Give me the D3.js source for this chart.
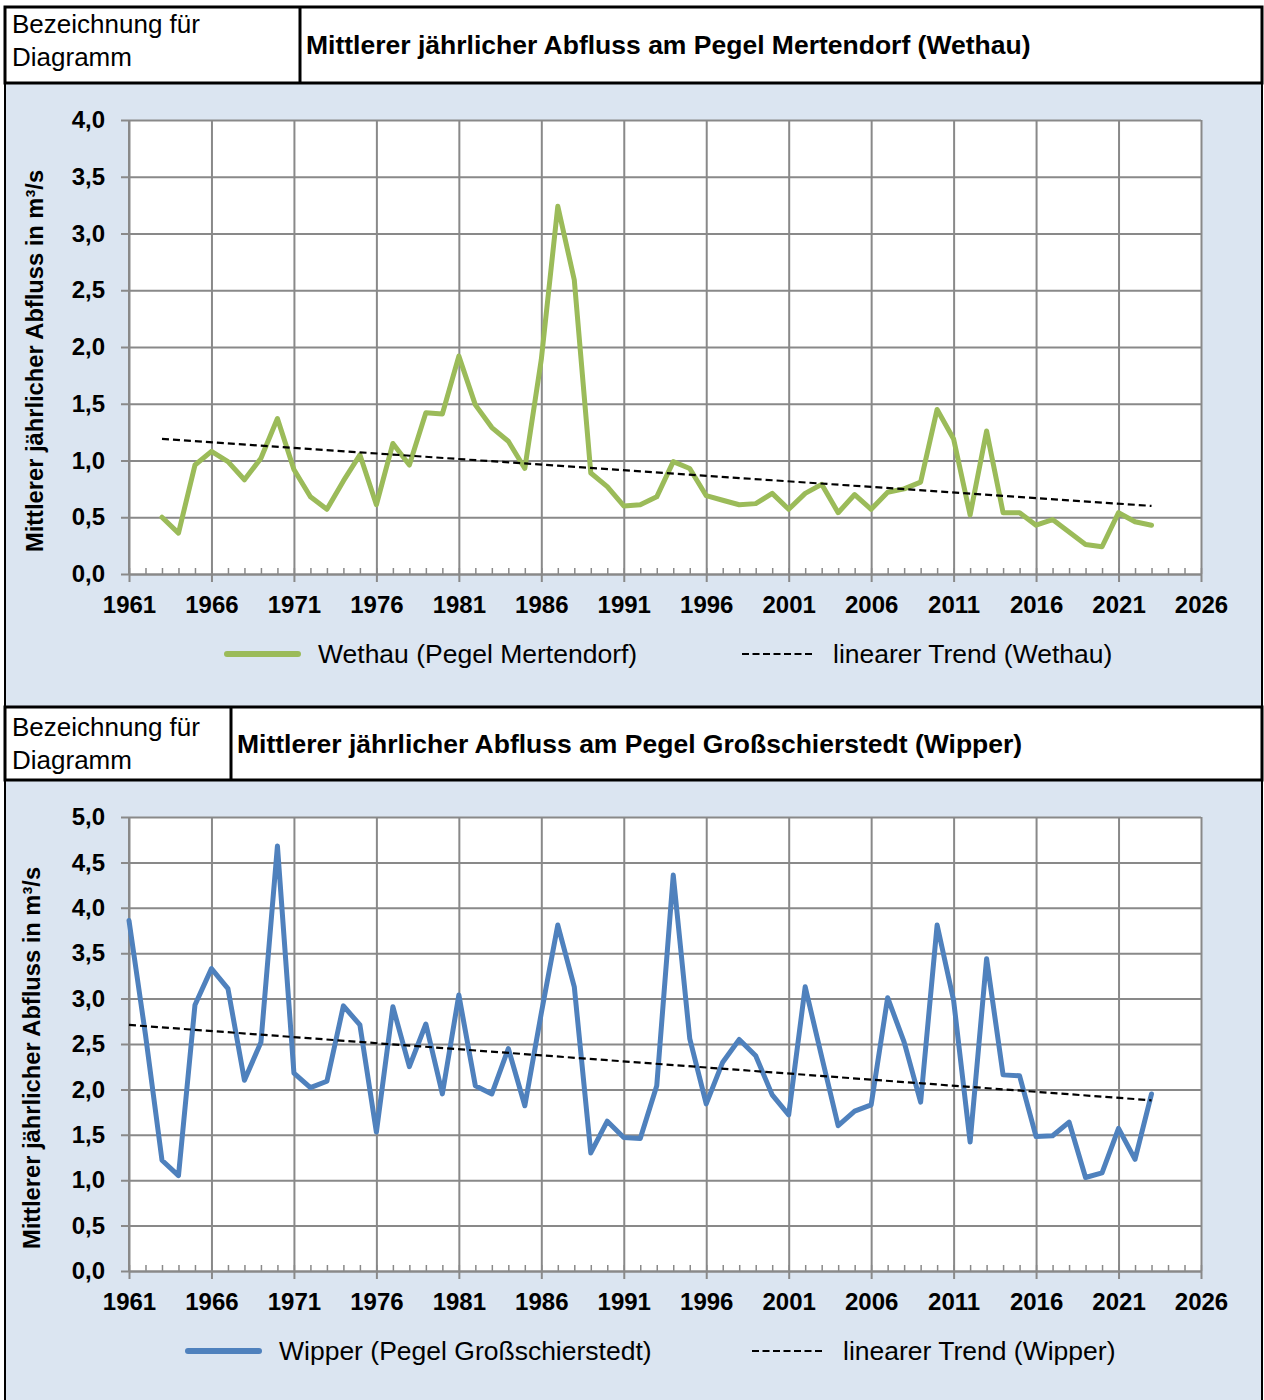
<!DOCTYPE html>
<html>
<head>
<meta charset="utf-8">
<script src="https://cdn.jsdelivr.net/npm/d3@7"></script>
<style>
body { margin: 0; background: #fff; }
text { font-family: "Liberation Sans", Arial, sans-serif; }
</style>
</head>
<body>
<svg id="chart" width="1264" height="1400"></svg>
<script>
// Wethau (Pegel Mertendorf), from 1963
var wethauStart = 1963
var wethauValues = [0.50, 0.36, 0.96, 1.08, 0.99, 0.83, 1.02, 1.37, 0.92, 0.68,
    0.57, 0.82, 1.05, 0.61, 1.15, 0.96, 1.42, 1.41, 1.92, 1.49,
    1.29, 1.17, 0.93, 1.89, 3.24, 2.59, 0.89, 0.77, 0.60, 0.61,
    0.68, 0.99, 0.93, 0.69, 0.65, 0.61, 0.62, 0.71, 0.57, 0.71,
    0.79, 0.54, 0.70, 0.57, 0.72, 0.75, 0.81, 1.45, 1.19, 0.52,
    1.26, 0.54, 0.54, 0.43, 0.48, 0.37, 0.26, 0.24, 0.54, 0.46, 0.43]
var wethauTrend = [[1963, 1.19], [2023, 0.60]]

// Wipper (Pegel Großschierstedt), from 1961
var wipperStart = 1961
var wipperValues = [3.86, 2.60, 1.22, 1.05, 2.93, 3.33, 3.11, 2.10, 2.52, 4.68,
    2.18, 2.02, 2.09, 2.92, 2.71, 1.53, 2.91, 2.25, 2.72, 1.95,
    3.04, 2.04, 1.95, 2.45, 1.82, 2.84, 3.81, 3.13, 1.30, 1.65,
    1.47, 1.46, 2.04, 4.36, 2.56, 1.84, 2.30, 2.55, 2.37, 1.94,
    1.72, 3.13, 2.36, 1.60, 1.76, 1.83, 3.01, 2.52, 1.86, 3.81,
    2.98, 1.42, 3.44, 2.16, 2.15, 1.48, 1.49, 1.64, 1.03, 1.08,
    1.57, 1.23, 1.95]
var wipperTrend = [[1961, 2.71], [2023, 1.88]]

var xTicks = [1961, 1966, 1971, 1976, 1981, 1986, 1991, 1996, 2001, 2006, 2011, 2016, 2021, 2026]
var yTicksWethau = [0, 0.5, 1, 1.5, 2, 2.5, 3, 3.5, 4]
var yTicksWipper = [0, 0.5, 1, 1.5, 2, 2.5, 3, 3.5, 4, 4.5, 5]

var svg = d3.select("#chart")
var fmt = d3.formatLocale({ decimal: ",", thousands: ".", grouping: [3], currency: ["", ""] }).format(".1f")
var gridColor = "#898989"

// frames
function frame(y, h, fill, sw) {
    svg.append("rect")
        .attr("x", 5).attr("y", y)
        .attr("width", 1257).attr("height", h)
        .attr("fill", fill).attr("stroke", "#000").attr("stroke-width", sw)
}
frame(83, 624, "#dbe5f1", 2)
frame(780, 640, "#dbe5f1", 2)
frame(7, 76, "#fff", 3)
frame(707, 73, "#fff", 3)
svg.append("line").attr("x1", 300).attr("x2", 300).attr("y1", 7).attr("y2", 83).attr("stroke", "#000").attr("stroke-width", 3)
svg.append("line").attr("x1", 231).attr("x2", 231).attr("y1", 707).attr("y2", 780).attr("stroke", "#000").attr("stroke-width", 3)

function header(y0, x, titleY, title) {
    svg.append("text").attr("x", 12).attr("y", y0 + 26).attr("font-size", 26).text("Bezeichnung für")
    svg.append("text").attr("x", 12).attr("y", y0 + 59).attr("font-size", 26).text("Diagramm")
    svg.append("text").attr("x", x).attr("y", titleY).attr("font-size", 26.5)
        .attr("font-weight", "bold").text(title)
}
header(7, 306, 54, "Mittlerer jährlicher Abfluss am Pegel Mertendorf (Wethau)")
header(710, 237, 753, "Mittlerer jährlicher Abfluss am Pegel Großschierstedt (Wipper)")

function chart(o) {
    var x = d3.scaleLinear().domain([1961, 2026]).range([129, 1201])
    var y = d3.scaleLinear().domain([0, o.yMax]).range([o.bottom, o.top])
    var g = svg.append("g")

    g.append("rect")
        .attr("x", x(1961)).attr("y", y(o.yMax))
        .attr("width", x(2026) - x(1961)).attr("height", y(0) - y(o.yMax))
        .attr("fill", "#fff")

    // horizontal grid + y ticks
    g.append("g")
        .attr("transform", `translate(${x(2026)},0)`)
        .call(d3.axisLeft(y).tickValues(o.yTicks).tickSize(x(2026) - x(1961) + 8).tickFormat(""))
        .call(a => a.select(".domain").remove())
        .selectAll("line").attr("stroke", gridColor).attr("stroke-width", 2)

    // vertical grid
    g.append("g")
        .attr("transform", `translate(0,${y(0)})`)
        .call(d3.axisBottom(x).tickValues(xTicks).tickSize(-(y(0) - y(o.yMax))).tickFormat(""))
        .call(a => a.select(".domain").remove())
        .selectAll("line").attr("stroke", gridColor).attr("stroke-width", 2)

    // major ticks out, minor ticks in
    g.append("g")
        .attr("transform", `translate(0,${y(0)})`)
        .call(d3.axisBottom(x).tickValues(xTicks).tickSize(8).tickFormat("").tickSizeOuter(0))
        .call(a => a.select(".domain").attr("stroke", gridColor).attr("stroke-width", 2))
        .selectAll("line").attr("stroke", gridColor).attr("stroke-width", 2)
    g.append("g")
        .attr("transform", `translate(0,${y(0)})`)
        .call(d3.axisBottom(x).tickValues(d3.range(1961, 2027)).tickSize(-6).tickFormat(""))
        .call(a => a.select(".domain").remove())
        .selectAll("line").attr("stroke", gridColor).attr("stroke-width", 1.5)

    // y axis line
    g.append("line")
        .attr("x1", x(1961)).attr("x2", x(1961))
        .attr("y1", y(0)).attr("y2", y(o.yMax))
        .attr("stroke", gridColor).attr("stroke-width", 2)

    // tick labels
    g.append("g")
        .attr("transform", `translate(0,${y(0)})`)
        .call(d3.axisBottom(x).tickValues(xTicks).tickSize(0).tickPadding(22).tickFormat(d => d))
        .call(a => a.select(".domain").remove())
        .selectAll("text")
        .attr("font-size", 24).attr("font-weight", "bold").attr("fill", "#000")
        .style("font-family", "'Liberation Sans', Arial, sans-serif")
    g.append("g")
        .attr("transform", `translate(${x(1961)},0)`)
        .call(d3.axisLeft(y).tickValues(o.yTicks).tickSize(0).tickPadding(24).tickFormat(fmt))
        .call(a => a.select(".domain").remove())
        .selectAll("text")
        .attr("font-size", 24).attr("font-weight", "bold").attr("fill", "#000")
        .style("font-family", "'Liberation Sans', Arial, sans-serif")

    // y title
    g.append("text")
        .attr("transform", `translate(${o.titleX},${(y(0) + y(o.yMax)) / 2 + 14}) rotate(-90)`)
        .attr("text-anchor", "middle").attr("dy", "0.35em")
        .attr("font-size", 23.7).attr("font-weight", "bold")
        .text("Mittlerer jährlicher Abfluss in m³/s")

    // data
    var line = d3.line().x((d, i) => x(o.start + i)).y(d => y(d))
    g.append("path")
        .datum(o.values)
        .attr("d", line)
        .attr("fill", "none")
        .attr("stroke", o.color)
        .attr("stroke-width", 5)
        .attr("stroke-linejoin", "round")
        .attr("stroke-linecap", "round")

    g.append("path")
        .datum(o.trend)
        .attr("d", d3.line().x(d => x(d[0])).y(d => y(d[1])))
        .attr("fill", "none")
        .attr("stroke", "#000")
        .attr("stroke-width", 2.2)
        .attr("stroke-dasharray", "7,4")

    // legend
    var ly = o.legendY
    g.append("line")
        .attr("x1", o.leg[0]).attr("x2", o.leg[0] + 71)
        .attr("y1", ly).attr("y2", ly)
        .attr("stroke", o.color).attr("stroke-width", 6).attr("stroke-linecap", "round")
    g.append("text").attr("x", o.leg[0] + 91).attr("y", ly).attr("dy", "0.35em")
        .attr("font-size", 26.5).text(o.name)
    g.append("line")
        .attr("x1", o.leg[1]).attr("x2", o.leg[1] + 70)
        .attr("y1", ly).attr("y2", ly)
        .attr("stroke", "#000").attr("stroke-width", 2).attr("stroke-dasharray", "7,3.5")
    g.append("text").attr("x", o.leg[1] + 91).attr("y", ly).attr("dy", "0.35em")
        .attr("font-size", 26.5).text(o.trendName)
}

chart({
    top: 120, bottom: 574, yMax: 4, yTicks: yTicksWethau,
    start: wethauStart, values: wethauValues, trend: wethauTrend,
    color: "#9bbb59", titleX: 35, legendY: 654, leg: [227, 742],
    name: "Wethau (Pegel Mertendorf)", trendName: "linearer Trend (Wethau)"
})
chart({
    top: 817, bottom: 1271, yMax: 5, yTicks: yTicksWipper,
    start: wipperStart, values: wipperValues, trend: wipperTrend,
    color: "#4f81bd", titleX: 32, legendY: 1351, leg: [188, 752],
    name: "Wipper (Pegel Großschierstedt)", trendName: "linearer Trend (Wipper)"
})
</script>
</body>
</html>
